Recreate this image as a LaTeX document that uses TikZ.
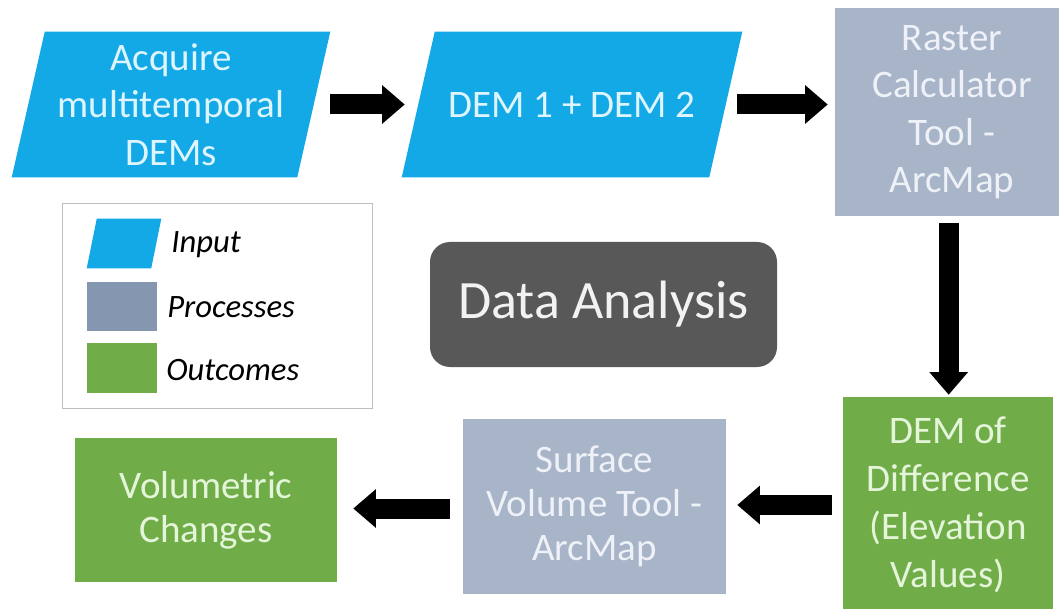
\documentclass[tikz,border=0pt]{standalone}
\usepackage{fontspec}
\setmainfont{Carlito}
\usetikzlibrary{arrows.meta,backgrounds}

\definecolor{inblue}{RGB}{18,169,230}
\definecolor{intext}{RGB}{222,244,255}
\definecolor{procgray}{RGB}{168,180,199}
\definecolor{proctext}{RGB}{238,242,248}
\definecolor{keygray}{RGB}{133,150,176}
\definecolor{outgreen}{RGB}{112,172,72}
\definecolor{outtext}{RGB}{228,245,218}
\definecolor{darkbox}{RGB}{88,88,88}
\definecolor{keyline}{RGB}{190,190,190}

\newcommand{\flowfont}{\fontsize{29.25}{35.5}\selectfont}
\newcommand{\keyfont}{\fontsize{24.5}{28}\selectfont\itshape}
% parallelogram behind a node: #1 node name, #2 slant
\newcommand{\slantfill}[2]{\fill [inblue] ([xshift=#2]#1.north west) -- (#1.north east) -- ([xshift=-#2]#1.south east) -- (#1.south west) -- cycle;}

\begin{document}
\begin{tikzpicture}[x=0.75pt,y=0.75pt,yscale=-1,xscale=1,
  inputbox/.style={rectangle, inner sep=0pt, text=intext, align=center, font=\flowfont},
  procbox/.style={rectangle, fill=procgray, inner sep=0pt, text=proctext, align=center, font=\flowfont},
  outbox/.style={rectangle, fill=outgreen, inner sep=0pt, text=outtext, align=center, font=\flowfont},
  keylabel/.style={anchor=west, inner sep=0.75pt, font=\keyfont},
  blockarrow/.style={line width=15pt, -{Triangle[length=17pt,width=28pt]}}]
\useasboundingbox (0,0) rectangle (1059,609);

%Shape: Parallelogram [id:input1]
\node [inputbox, minimum width=238.5pt, minimum height=108.75pt] (acquire) at (171,104.5) {Acquire\\multitemporal\\DEMs};
%Shape: Parallelogram [id:input2]
\node [inputbox, minimum width=255pt, minimum height=108.75pt] (dems) at (572,104.5) {DEM 1 + DEM 2};
\begin{scope}[on background layer]
\slantfill{acquire}{24.75pt}
\slantfill{dems}{24.75pt}
\end{scope}
%Shape: Rectangle [id:proc1]
\node [procbox, minimum width=175.5pt, minimum height=156pt] (raster) at (952,112) {Raster\\Calculator\\Tool -\\ArcMap};
%Shape: Rectangle [id:out1]
\node [outbox, minimum width=157.5pt, minimum height=162pt, font=\fontsize{29.25}{36}\selectfont] (dod) at (948,505) {DEM of\\Difference\\(Elevation\\Values)};
%Shape: Rectangle [id:proc2]
\node [procbox, minimum width=197.25pt, minimum height=131.25pt, font=\fontsize{29.25}{33}\selectfont] (surface) at (594.5,506.5) {Surface\\Volume Tool -\\ArcMap};
%Shape: Rectangle [id:out2]
\node [outbox, minimum width=196.5pt, minimum height=108pt, font=\fontsize{29.25}{33}\selectfont] (volume) at (206,510) {Volumetric\\Changes};

%Shape: Rounded Rectangle [id:analysis]
\node [rectangle, rounded corners=15pt, fill=darkbox, text={rgb,255:red,242;green,242;blue,242}, minimum width=260.25pt, minimum height=93.75pt, font=\fontsize{40.5}{48}\selectfont] (analysis) at (603.5,304.5) {Data Analysis};

%Shape: Rectangle [id:legend]
\node [rectangle, draw=keyline, line width=0.75pt, minimum width=232.5pt, minimum height=153pt] (legend) at (217,306) {};
%Shape: Parallelogram [id:keyin]
\node [rectangle, inner sep=0pt, minimum width=55.5pt, minimum height=36.75pt] (keyin) at (124,243.5) {};
\slantfill{keyin}{7.5pt}
%Shape: Rectangle [id:keyproc]
\node [rectangle, fill=keygray, inner sep=0pt, minimum width=52.5pt, minimum height=36.75pt] (keyproc) at (122,306.5) {};
%Shape: Rectangle [id:keyout]
\node [rectangle, fill=outgreen, inner sep=0pt, minimum width=52.5pt, minimum height=37.5pt] (keyout) at (122,368) {};

% Text Node
\node [keylabel] (inlabel) at (170,245) {Input};
% Text Node
\node [keylabel] (proclabel) at (166,307) {Processes};
% Text Node
\node [keylabel] (outlabel) at (165,370) {Outcomes};

%Straight Lines [id:arrows]
\draw [blockarrow] (acquire.east) -- ([xshift=2.25pt]dems.west);
\draw [blockarrow] ([xshift=-3.75pt]dems.east) -- ([xshift=-5.25pt]dems.east -| raster.west);
\draw [blockarrow] ([xshift=-2.5pt,yshift=5.25pt]raster.south) -- ([xshift=-2.5pt,yshift=-1.5pt]raster.south |- dod.north);
\draw [blockarrow] ([xshift=-8.25pt]dod.west) -- ([xshift=8.25pt]dod.west -| surface.east);
\draw [blockarrow] ([xshift=-9.75pt,yshift=1.5pt]surface.west) -- ([xshift=12pt,yshift=1.5pt]surface.west -| volume.east);

\end{tikzpicture}
\end{document}
